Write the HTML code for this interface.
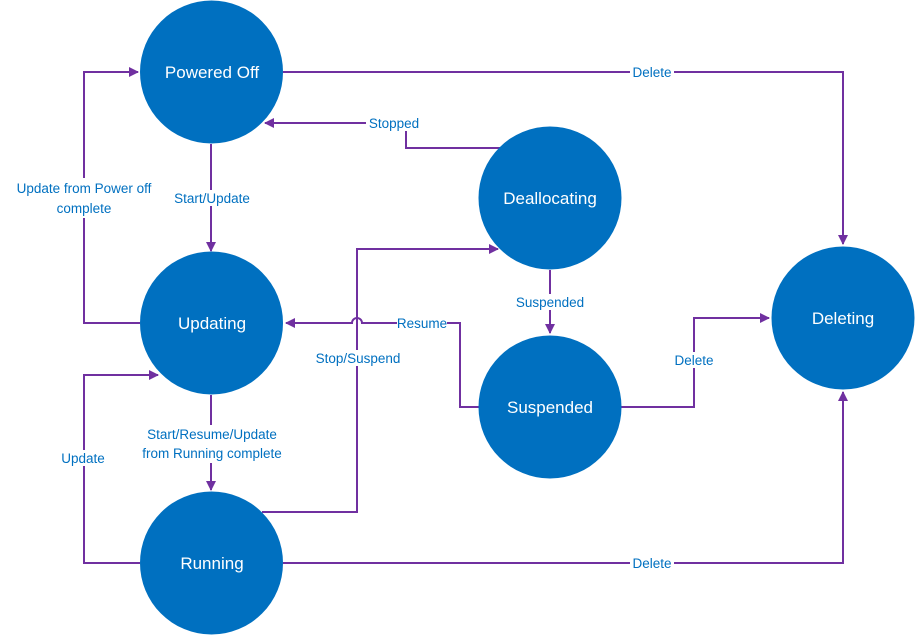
<!DOCTYPE html>
<html><head><meta charset="utf-8"><style>
html,body{margin:0;padding:0;background:#fff;}
svg{display:block;}
text{font-family:"Liberation Sans",sans-serif;}
.l{fill:#0070C0;font-size:13.5px;text-anchor:middle;}
.c{fill:#fff;font-size:17px;text-anchor:middle;}
.ln{stroke:#7030A0;stroke-width:2;fill:none;}
.bg{fill:#fff;}
</style></head><body>
<svg width="916" height="636" viewBox="0 0 916 636">
<defs><marker id="a" markerWidth="10" markerHeight="10" refX="9" refY="5" orient="auto" markerUnits="userSpaceOnUse"><path d="M0,0 L10,5 L0,10 z" fill="#7030A0"/></marker></defs>
<g class="ln">
<path d="M283,72 H843 V244" marker-end="url(#a)"/>
<path d="M500,148 H406 V123 H265" marker-end="url(#a)"/>
<path d="M211,144 V251" marker-end="url(#a)"/>
<path d="M140,323 H84 V72 H138" marker-end="url(#a)"/>
<path d="M211,395 V490" marker-end="url(#a)"/>
<path d="M140,563 H84 V375 H158" marker-end="url(#a)"/>
<path d="M262,512 H357 V249 H498" marker-end="url(#a)"/>
<path d="M480,407 H460 V323 H362 A4,4 0 0 0 352,323 H286" marker-end="url(#a)"/>
<path d="M550,270 V333" marker-end="url(#a)"/>
<path d="M621,407 H694 V318 H769" marker-end="url(#a)"/>
<path d="M283,563 H843 V392" marker-end="url(#a)"/>
</g>
<g fill="#0070C0">
<circle cx="211.5" cy="72" r="71.5"/>
<circle cx="211.5" cy="323" r="71.5"/>
<circle cx="211.5" cy="563" r="71.5"/>
<circle cx="550" cy="198" r="71.5"/>
<circle cx="550" cy="407" r="71.5"/>
<circle cx="843" cy="318" r="71.5"/>
</g>
<text class="c" x="212" y="78">Powered Off</text>
<text class="c" x="212" y="329">Updating</text>
<text class="c" x="212" y="569">Running</text>
<text class="c" x="550" y="204">Deallocating</text>
<text class="c" x="550" y="413">Suspended</text>
<text class="c" x="843" y="324">Deleting</text>
<rect class="bg" x="630" y="64" width="44" height="16"/><text class="l" x="652" y="77">Delete</text>
<rect class="bg" x="630" y="555" width="44" height="16"/><text class="l" x="652" y="568">Delete</text>
<rect class="bg" x="672" y="352" width="44" height="16"/><text class="l" x="694" y="365">Delete</text>
<rect class="bg" x="366" y="115" width="56" height="16"/><text class="l" x="394" y="128">Stopped</text>
<rect class="bg" x="168" y="190" width="88" height="16"/><text class="l" x="212" y="203">Start/Update</text>
<rect class="bg" x="8" y="178" width="154" height="40"/><text class="l" x="84" y="193">Update from Power off</text><text class="l" x="84" y="213">complete</text>
<rect class="bg" x="135" y="425" width="154" height="38"/><text class="l" x="212" y="439">Start/Resume/Update</text><text class="l" x="212" y="458">from Running complete</text>
<rect class="bg" x="58" y="450" width="52" height="16"/><text class="l" x="83" y="463">Update</text>
<rect class="bg" x="312" y="350" width="92" height="16"/><text class="l" x="358" y="363">Stop/Suspend</text>
<rect class="bg" x="397" y="315" width="50" height="16"/><text class="l" x="422" y="328">Resume</text>
<rect class="bg" x="514" y="294" width="72" height="16"/><text class="l" x="550" y="307">Suspended</text>
</svg>
</body></html>
